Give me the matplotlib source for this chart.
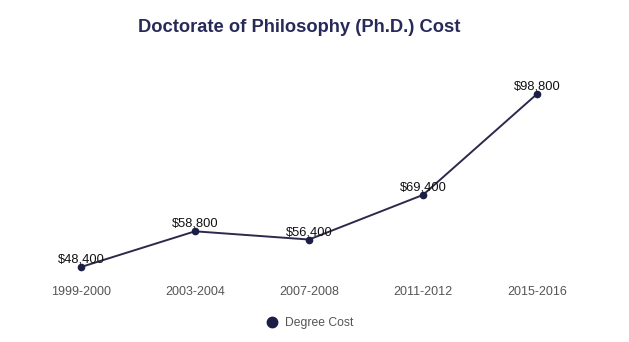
import matplotlib
matplotlib.use("Agg")
import matplotlib.pyplot as plt
from matplotlib.lines import Line2D

years = ["1999-2000", "2003-2004", "2007-2008", "2011-2012", "2015-2016"]
costs = [48400, 58800, 56400, 69400, 98800]
labels = ["$48,400", "$58,800", "$56,400", "$69,400", "$98,800"]

plt.rcParams['font.family'] = ['Liberation Sans', 'DejaVu Sans']

W, H = 629, 342
fig = plt.figure(figsize=(W/100, H/100), dpi=100)
fig.patch.set_facecolor("white")
ax = fig.add_axes([24/W, 1 - 280/H, 570/W, 220/H])
ax.set_facecolor("none")

x = list(range(len(years)))
ax.plot(x, costs, color="#2b2a4c", lw=1.4, marker="o", ms=4.5,
        mfc="#1c1f45", mec="#1c1f45", zorder=3)
for xi, v, t in zip(x, costs, labels):
    ax.annotate(t, (xi, v), xytext=(0, 1), textcoords="offset points",
                ha="center", va="bottom", fontsize=9.3, color="#111111")

ax.set_xlim(-0.5, 4.5)
ax.set_ylim(44613, 108700)
ax.set_xticks(x)
ax.set_xticklabels(years, fontsize=9, color="#555555")
ax.tick_params(axis="x", length=0, pad=4)
ax.set_yticks([])
for s in ax.spines.values():
    s.set_visible(False)

fig.text(299/W, 1 - 28/H, "Doctorate of Philosophy (Ph.D.) Cost", ha="center",
         va="center", fontsize=13.2, fontweight="bold", color="#272a58")

h = Line2D([], [], color="#1c1f45", marker="o", ls="none", ms=7.5)
fig.legend([h], ["Degree Cost"], loc="center", bbox_to_anchor=(306.5/W, 1 - 323/H),
           frameon=False, fontsize=8.7, labelcolor="#555555", handletextpad=0.1)

fig.savefig("out.png", dpi=100)
